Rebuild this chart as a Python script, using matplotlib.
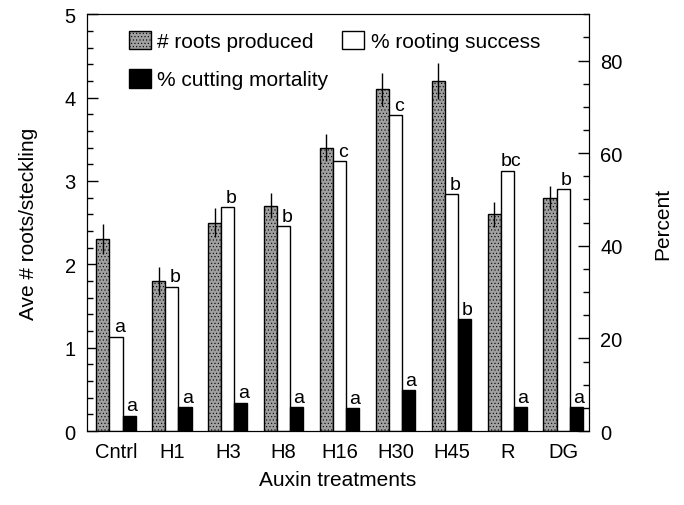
import numpy as np
import matplotlib.pyplot as plt

plt.rcParams['font.family'] = ['Liberation Sans', 'DejaVu Sans']
plt.rcParams['hatch.linewidth'] = 0.4

treatments = ['Cntrl', 'H1', 'H3', 'H8', 'H16', 'H30', 'H45', 'R', 'DG']
roots = [2.3, 1.8, 2.5, 2.7, 3.4, 4.1, 4.2, 2.6, 2.8]
roots_err = [0.18, 0.17, 0.17, 0.15, 0.16, 0.2, 0.22, 0.15, 0.14]
success = [20.4, 31.2, 48.3, 44.2, 58.3, 68.2, 51.2, 56.2, 52.2]
mortality = [3.3, 5.1, 6.1, 5.1, 5.0, 8.9, 24.2, 5.1, 5.1]
success_letters = ['a', 'b', 'b', 'b', 'c', 'c', 'b', 'bc', 'b']
mortality_letters = ['a', 'a', 'a', 'a', 'a', 'a', 'b', 'a', 'a']

x = np.arange(len(treatments))
w = 0.235

fig = plt.figure(figsize=(6.84, 5.06), dpi=100)
ax = fig.add_axes([0.127, 0.146, 0.734, 0.824])
ax2 = ax.twinx()

b1 = ax.bar(x - w, roots, w, color='#a0a0a0', edgecolor='black', lw=1.0,
            hatch='.....', zorder=2)
ax.errorbar(x - w, roots, yerr=roots_err, fmt='none', ecolor='black',
            elinewidth=1.0, capsize=0, zorder=3)
b2 = ax2.bar(x, success, w, color='white', edgecolor='black', lw=1.0)
b3 = ax2.bar(x + w, mortality, w, color='black', edgecolor='black', lw=1.0)

for i in range(len(x)):
    ax2.text(x[i] + 0.06, success[i] + 0.3, success_letters[i], ha='center',
             va='bottom', fontsize=14)
    ax2.text(x[i] + w + 0.04, mortality[i] + 0.3, mortality_letters[i], ha='center',
             va='bottom', fontsize=14)

ax.set_xlim(-0.52, 8.46)
ax.set_ylim(0, 5)
ax2.set_ylim(0, 90)
ax.set_xticks(x)
ax.set_xticklabels(treatments)
ax.set_yticks([0, 1, 2, 3, 4, 5])
ax.set_yticks(np.arange(0, 5.01, 0.2), minor=True)
ax2.set_yticks([0, 20, 40, 60, 80])
ax2.set_yticks(np.arange(0, 90.1, 5), minor=True)

ax.tick_params(axis='y', direction='in', length=8, width=1, labelsize=14.5, pad=8)
ax.tick_params(axis='y', which='minor', direction='in', length=4, width=1)
ax.tick_params(axis='x', length=0, labelsize=14.5, pad=8)
ax2.tick_params(axis='y', direction='in', length=8, width=1, labelsize=14.5, pad=8)
ax2.tick_params(axis='y', which='minor', direction='in', length=4, width=1)

ax.set_ylabel('Ave # roots/steckling', fontsize=15, labelpad=19)
ax2.set_ylabel('Percent', fontsize=15, labelpad=22)
ax.set_xlabel('Auxin treatments', fontsize=15, labelpad=6)

ax2.legend([b1, b3, b2], ['# roots produced', '% cutting mortality', '% rooting success'],
           ncol=2, loc='upper left', bbox_to_anchor=(0.05, 1.0), frameon=False,
           fontsize=15, handlelength=1.05, handleheight=1.0, handletextpad=0.3,
           columnspacing=0.7, labelspacing=0.85, borderaxespad=0.4)

fig.savefig('out.png', dpi=100)
